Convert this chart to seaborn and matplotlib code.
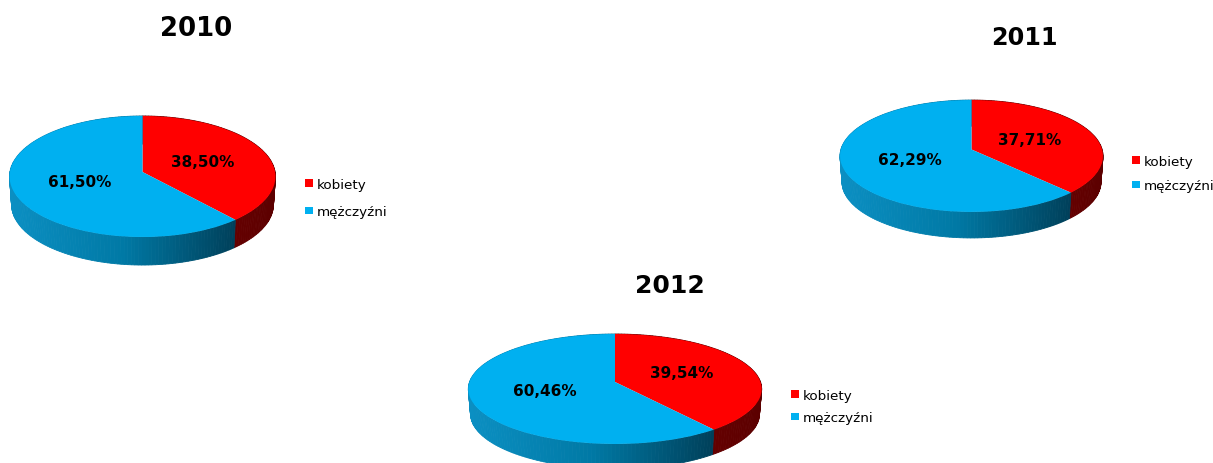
import numpy as np
import matplotlib
matplotlib.use("Agg")
import matplotlib.pyplot as plt
import seaborn as sns

# ---- data ----
years = ["2010", "2011", "2012"]
categories = ["kobiety", "mężczyźni"]
kobiety = [38.50, 37.71, 39.54]
mezczyzni = [61.50, 62.29, 60.46]

# ---- layout (pixels in the 1213x464 image) ----
W, H = 1213, 464
apex = [(142.5, 173), (971.5, 150.5), (615, 383)]
half_w = [132.6, 130.6, 145.5]
half_h = [60.2, 55.2, 54.1]
persp = [0.0743, 0.116, 0.127]
depth = [28, 26, 25]
title_xy = [(196, 29), (1024, 38), (670, 286)]
title_size = [18.7, 17.2, 18.0]
label_xy = [[(203, 163), (80, 183)], [(1030, 141), (910, 161)], [(682, 374), (545, 392)]]
legend_xy = [(305, 199), (1132, 174.5), (791, 407.5)]
legend_gap = [1.07, 0.86, 0.71]

RED, BLUE = "#FF0000", "#00B0F0"

sns.set_theme(style="white")
plt.rcParams["font.family"] = ["DejaVu Sans"]
palette = sns.color_palette([RED, BLUE])
blue_wall = sns.blend_palette(["#0B8FC2", "#0079A5", "#00405A"], as_cmap=True)
red_wall = sns.blend_palette(["#640000", "#5C0000"], as_cmap=True)

fig = plt.figure(figsize=(W / 100, H / 100), dpi=100, facecolor="white")


def project(u, v, a, b, k):
    return a * u / (1 + k * v), b * v / (1 + k * v)


for i, year in enumerate(years):
    ax_x, ax_y = apex[i]
    a, b, k, d = half_w[i], half_h[i], persp[i], depth[i]
    x0, x1, y0, y1 = -170, 170, -110, 170
    ax = fig.add_axes([(ax_x + x0) / W, 1 - (ax_y - y0) / H, (x1 - x0) / W, (y1 - y0) / H])
    values = [kobiety[i], mezczyzni[i]]
    wedges, _ = ax.pie(values, colors=palette, startangle=90, counterclock=False,
                       radius=1, wedgeprops=dict(linewidth=0))
    ax.set_aspect("auto")
    for w in wedges:
        w.set_zorder(5)
        p = w.get_path()
        px, py = project(p.vertices[:, 0], p.vertices[:, 1], a, b, k)
        p.vertices = np.column_stack([px, py])

    # side wall, built from the slice angles
    f = values[0] / sum(values) * 2 * np.pi
    edge_x = project(np.sin(f), np.cos(f), a, b, k)[0]
    for (t0, t1, cmap, lo, hi) in [(0, f, red_wall, edge_x, a), (f, 2 * np.pi, blue_wall, -a, edge_x)]:
        n = max(int((t1 - t0) / (2 * np.pi) * 260), 8)
        t = np.linspace(t0, t1, n + 1)
        for t_a, t_b in zip(t[:-1], t[1:]):
            tt = np.array([t_a, t_b])
            xs, ys = project(np.sin(tt), np.cos(tt), a, b, k)
            col = cmap(float(np.clip((xs.mean() - lo) / (hi - lo), 0, 1)))
            ax.fill([xs[0], xs[1], xs[1] * 0.985, xs[0] * 0.985],
                    [ys[0], ys[1], ys[1] - d, ys[0] - d],
                    color=col, lw=0.6, zorder=2)

    ax.set_xlim(x0, x1)
    ax.set_ylim(y0, y1)
    ax.axis("off")

    for (lx, ly), val in zip(label_xy[i], values):
        ax.text(lx - ax_x, ax_y - ly, f"{val:.2f}%".replace(".", ","), ha="center", va="center",
                fontsize=11, fontweight="bold", color="black", zorder=8, clip_on=False)

    tx, ty = title_xy[i]
    ax.text(tx - ax_x, ax_y - ty, year, ha="center", va="center",
            fontsize=title_size[i], fontweight="bold", color="black", clip_on=False)

    lgx, lgy = legend_xy[i]
    ax.legend(wedges, categories, loc="center left",
              bbox_to_anchor=(lgx / W, 1 - lgy / H), bbox_transform=fig.transFigure,
              frameon=False, fontsize=9.7, handlelength=0.62, handleheight=0.5,
              handletextpad=0.25, labelspacing=legend_gap[i], borderpad=0, borderaxespad=0,
              labelcolor="black")

fig.savefig("out.png", dpi=100, facecolor="white")
